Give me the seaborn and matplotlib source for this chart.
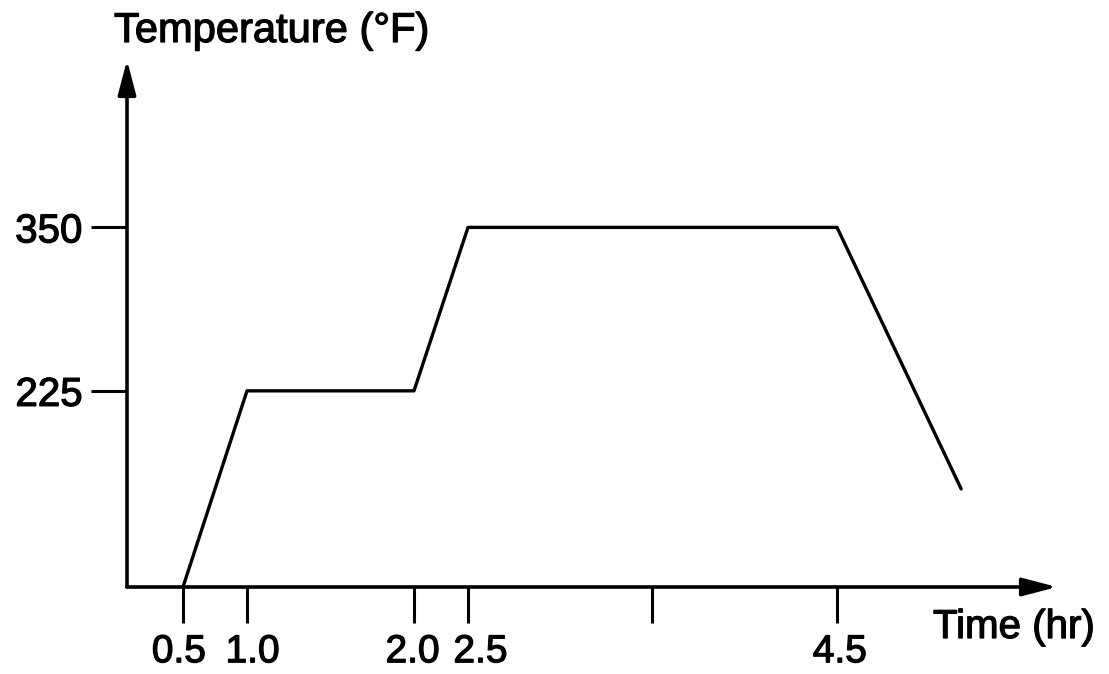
import numpy as np
import pandas as pd
import matplotlib
matplotlib.use("Agg")
import matplotlib.pyplot as plt
import matplotlib.transforms as mtransforms
import matplotlib.patheffects as pe
from matplotlib.patches import FancyArrowPatch
import seaborn as sns

# Cure cycle: temperature profile over time
time_hr = [0.5, 1.0, 2.0, 2.5, 4.5, 5.17]
temp_f = [75, 225, 225, 350, 350, 150]

x_ticks = [0.5, 1.0, 2.0, 2.5, 3.5, 4.5]
x_tick_labels = ["0.5", "1.0", "2.0", "2.5", "", "4.5"]
y_ticks = [225, 350]
y_tick_labels = ["225", "350"]

# Schematic (non-uniform) time axis: hours -> drawing units
scale_hours = [0.0, 0.5, 1.0, 2.0, 2.5, 3.5, 4.5, 6.0]
scale_units = [0.0, 56.0, 120.0, 287.0, 341.0, 525.0, 710.0, 988.0]

# Horizontal nudges (points) so crowded tick labels stay apart
label_nudge_pt = [-3, 4, -1, 9, 0, 2]


def fwd(t):
    return np.interp(t, scale_hours, scale_units)


def inv(u):
    return np.interp(u, scale_units, scale_hours)


sns.set_style("white")
plt.rcParams["font.family"] = ["Liberation Sans", "DejaVu Sans"]

ink = [pe.withStroke(linewidth=0.9, foreground="black")]

W, H = 1109, 674
fig = plt.figure(figsize=(W / 100, H / 100), dpi=100)
ax = fig.add_axes([127 / W, (H - 587) / H, (1057 - 127) / W, (587 - 60) / H])

df = pd.DataFrame({"Time (hr)": time_hr, "Temperature (°F)": temp_f})
sns.lineplot(data=df, x="Time (hr)", y="Temperature (°F)", ax=ax,
             color="black", linewidth=2.4, sort=False, estimator=None)

ax.set_xscale("function", functions=(fwd, inv))
ax.set_xlim(0, float(inv(930.0)))
ax.set_ylim(75, 478)

ax.set_xticks(x_ticks)
ax.set_xticklabels(x_tick_labels)
ax.set_yticks(y_ticks)
ax.set_yticklabels(y_tick_labels)
ax.minorticks_off()
ax.tick_params(axis="both", direction="out", length=26, width=2.2,
               color="black", labelcolor="black")
ax.tick_params(axis="x", pad=8, bottom=True, labelsize=28)
ax.tick_params(axis="y", pad=6, left=True, labelsize=29)
ax.set_xlabel("")
ax.set_ylabel("")

for lab, dx in zip(ax.get_xticklabels(), label_nudge_pt):
    lab.set_transform(lab.get_transform() +
                      mtransforms.ScaledTranslation(dx / 72, 0, fig.dpi_scale_trans))
for lab in ax.get_xticklabels() + ax.get_yticklabels():
    lab.set_path_effects(ink)

for s in ax.spines.values():
    s.set_visible(False)

# Axis lines with arrow heads
arrow_kw = dict(transform=ax.transAxes, arrowstyle="-|>,head_length=21,head_width=5.5",
                mutation_scale=1, color="black", linewidth=2.6,
                shrinkA=0, shrinkB=0, clip_on=False)
ax.add_patch(FancyArrowPatch((0, 0), (1, 0), **arrow_kw))
ax.add_patch(FancyArrowPatch((0, 0), (0, 1), **arrow_kw))

fig.text(114 / W, (H - 42) / H, "Temperature (°F)", fontsize=30,
         ha="left", va="baseline", color="black", path_effects=ink)
fig.text(933 / W, (H - 638) / H, "Time (hr)", fontsize=29,
         ha="left", va="baseline", color="black", path_effects=ink)

fig.savefig("out.png", dpi=100, facecolor="white")
